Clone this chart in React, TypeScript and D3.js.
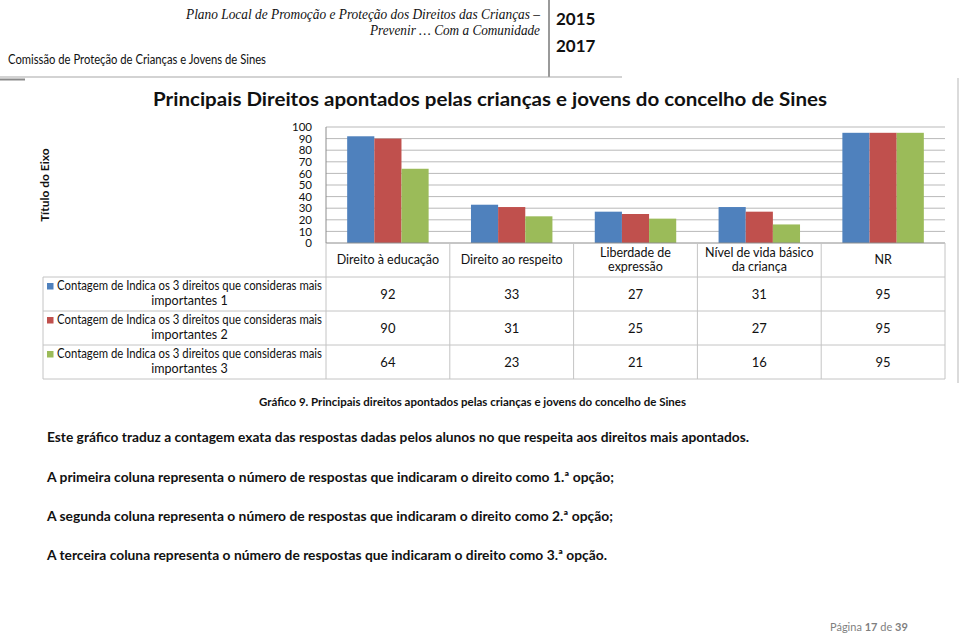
import React from "react";
import * as d3 from "d3";

const categories = ["Direito à educação", "Direito ao respeito", "Liberdade de expressão", "Nível de vida básico da criança", "NR"];
const categoryLines = [["Direito à educação"], ["Direito ao respeito"], ["Liberdade de", "expressão"], ["Nível de vida básico", "da criança"], ["NR"]];
const seriesNames = [
  "Contagem de Indica os 3 direitos que consideras mais importantes 1",
  "Contagem de Indica os 3 direitos que consideras mais importantes 2",
  "Contagem de Indica os 3 direitos que consideras mais importantes 3",
];
const series1 = [92, 33, 27, 31, 95];
const series2 = [90, 31, 25, 27, 95];
const series3 = [64, 23, 21, 16, 95];
const seriesColors = ["#4F81BD", "#C0504D", "#9BBB59"];
const yTicks = [0, 10, 20, 30, 40, 50, 60, 70, 80, 90, 100];

const SANS = "Lato, 'Open Sans', sans-serif";
const SERIF = "'Liberation Serif', 'DejaVu Serif', serif";

export default function App() {
  const allSeries = [series1, series2, series3];
  const plotLeft = 326, plotRight = 945, plotTop = 127, plotBottom = 243;
  const y = d3.scaleLinear().domain([0, 100]).range([plotBottom, plotTop]);
  const x = d3.scaleBand<string>().domain(categories).range([plotLeft, plotRight]).paddingInner(0).paddingOuter(0);
  const xs = d3.scaleBand<number>().domain([0, 1, 2]).range([0, x.bandwidth()]).paddingInner(0).paddingOuter(0.78);
  const rowTops = [277, 311, 345];
  const rowH = 34;
  const tableLeft = 43;
  const gridColor = "#b9b9b9";
  const tableColor = "#c4c4c4";
  const bounds = categories.map((c) => x(c) as number).concat([plotRight]);

  return (
    <svg width={960} height={634} style={{ position: "absolute", left: 0, top: 0, background: "#fff" }}>
      {/* Header */}
      <text x={540} y={19} textAnchor="end" fontFamily={SERIF} fontStyle="italic" fontSize={14} textLength={354} lengthAdjust="spacingAndGlyphs" fill="#111">
        Plano Local de Promoção e Proteção dos Direitos das Crianças –
      </text>
      <text x={540} y={35} textAnchor="end" fontFamily={SERIF} fontStyle="italic" fontSize={14} textLength={170} lengthAdjust="spacingAndGlyphs" fill="#111">
        Prevenir … Com a Comunidade
      </text>
      <text x={556} y={25} fontFamily={SANS} fontWeight="bold" fontSize={17} fill="#111">2015</text>
      <text x={556} y={52} fontFamily={SANS} fontWeight="bold" fontSize={17} fill="#111">2017</text>
      <text x={8} y={64} fontFamily={SANS} fontSize={12.5} textLength={258} lengthAdjust="spacingAndGlyphs" fill="#111">
        Comissão de Proteção de Crianças e Jovens de Sines
      </text>
      <line x1={549} x2={549} y1={0} y2={77} stroke="#9a9a9a" strokeWidth={2} />
      <line x1={0} x2={622} y1={77} y2={77} stroke="#a8a8a8" strokeWidth={1.2} />
      <line x1={0} x2={25} y1={79.5} y2={79.5} stroke="#8a8a8a" strokeWidth={2} />
      <line x1={958} x2={958} y1={78} y2={383} stroke="#cfcfcf" strokeWidth={1.5} />

      {/* Title */}
      <text x={490} y={106} textAnchor="middle" fontFamily={SANS} fontWeight="bold" fontSize={19} textLength={674} lengthAdjust="spacingAndGlyphs" fill="#111">
        Principais Direitos apontados pelas crianças e jovens do concelho de Sines
      </text>
      <text transform="translate(49,185) rotate(-90)" textAnchor="middle" fontFamily={SANS} fontWeight="bold" fontSize={12} fill="#111">
        Título do Eixo
      </text>

      {/* Gridlines and y ticks */}
      {yTicks.map((t) => (
        <g key={t}>
          {t > 0 && <line x1={plotLeft} x2={plotRight} y1={y(t)} y2={y(t)} stroke={gridColor} strokeWidth={1} />}
          <text x={312} y={y(t) + 4.2} textAnchor="end" fontFamily={SANS} fontSize={11.5} fill="#111">{t}</text>
        </g>
      ))}

      {/* Bars */}
      {categories.map((c, ci) => (
        <g key={c}>
          {allSeries.map((s, si) => (
            <rect key={si} x={(x(c) as number) + (xs(si) as number)} y={y(s[ci])} width={xs.bandwidth()} height={y(0) - y(s[ci])} fill={seriesColors[si]} />
          ))}
        </g>
      ))}

      {/* Axis */}
      <line x1={plotLeft} x2={plotLeft} y1={plotTop} y2={plotBottom} stroke="#8c8c8c" strokeWidth={1} />
      <line x1={plotLeft} x2={plotRight} y1={plotBottom} y2={plotBottom} stroke="#8c8c8c" strokeWidth={1} />

      {/* Data table */}
      {bounds.map((b, i) => (
        <line key={i} x1={b} x2={b} y1={plotBottom} y2={rowTops[2] + rowH} stroke={tableColor} strokeWidth={1} />
      ))}
      <line x1={tableLeft} x2={tableLeft} y1={rowTops[0]} y2={rowTops[2] + rowH} stroke={tableColor} strokeWidth={1} />
      {rowTops.concat([rowTops[2] + rowH]).map((ty, i) => (
        <line key={i} x1={tableLeft} x2={plotRight} y1={ty} y2={ty} stroke={tableColor} strokeWidth={1} />
      ))}
      {categoryLines.map((lines, ci) => {
        const cx = (x(categories[ci]) as number) + x.bandwidth() / 2;
        const start = lines.length === 1 ? 264 : 257;
        return lines.map((ln, li) => (
          <text key={ci + "-" + li} x={cx} y={start + li * 14} textAnchor="middle" fontFamily={SANS} fontSize={12.5} fill="#111">{ln}</text>
        ));
      })}
      {allSeries.map((s, si) => (
        <g key={si}>
          <rect x={47} y={rowTops[si] + 6} width={6.5} height={6.5} fill={seriesColors[si]} />
          <text x={189.5} y={rowTops[si] + 13} textAnchor="middle" fontFamily={SANS} fontSize={12.5} textLength={265} lengthAdjust="spacingAndGlyphs" fill="#111">
            Contagem de Indica os 3 direitos que consideras mais
          </text>
          <text x={189.5} y={rowTops[si] + 28} textAnchor="middle" fontFamily={SANS} fontSize={12.5} fill="#111">
            {"importantes " + (si + 1)}
          </text>
          {s.map((v, ci) => (
            <text key={ci} x={(x(categories[ci]) as number) + x.bandwidth() / 2} y={rowTops[si] + 21.5} textAnchor="middle" fontFamily={SANS} fontSize={13} fill="#111">{v}</text>
          ))}
        </g>
      ))}

      {/* Caption and paragraphs */}
      <text x={259} y={406} fontFamily={SANS} fontWeight="bold" fontSize={12} textLength={427} lengthAdjust="spacingAndGlyphs" fill="#111">
        Gráfico 9. Principais direitos apontados pelas crianças e jovens do concelho de Sines
      </text>
      <text x={47} y={442} fontFamily={SANS} fontWeight="bold" fontSize={14} textLength={702} lengthAdjust="spacingAndGlyphs" fill="#111">
        Este gráfico traduz a contagem exata das respostas dadas pelos alunos no que respeita aos direitos mais apontados.
      </text>
      <text x={47} y={482} fontFamily={SANS} fontWeight="bold" fontSize={14} textLength={567} lengthAdjust="spacingAndGlyphs" fill="#111">
        A primeira coluna representa o número de respostas que indicaram o direito como 1.ª opção;
      </text>
      <text x={47} y={521} fontFamily={SANS} fontWeight="bold" fontSize={14} textLength={566} lengthAdjust="spacingAndGlyphs" fill="#111">
        A segunda coluna representa o número de respostas que indicaram o direito como 2.ª opção;
      </text>
      <text x={47} y={560} fontFamily={SANS} fontWeight="bold" fontSize={14} textLength={560} lengthAdjust="spacingAndGlyphs" fill="#111">
        A terceira coluna representa o número de respostas que indicaram o direito como 3.ª opção.
      </text>

      {/* Footer */}
      <text x={830} y={631} fontFamily={SANS} fontSize={11} fill="#7f7f7f">
        Página <tspan fontWeight="bold">17</tspan> de <tspan fontWeight="bold">39</tspan>
      </text>
    </svg>
  );
}
